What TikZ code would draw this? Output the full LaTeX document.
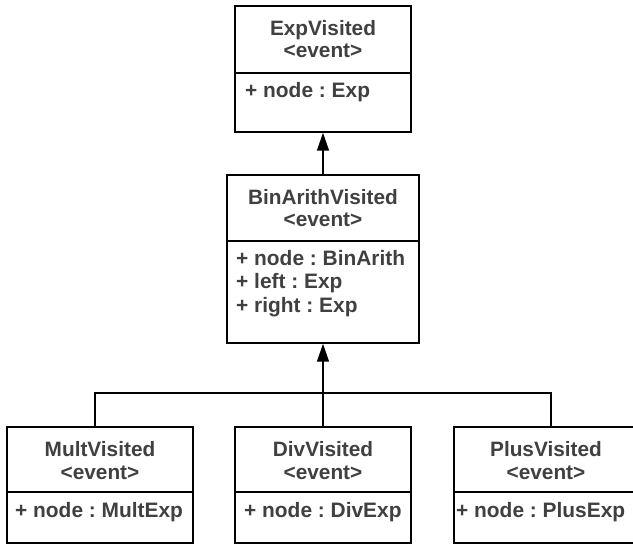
\documentclass[tikz,border=0pt]{standalone}
\usepackage{fontspec}
\setmainfont{Liberation Sans}
\usetikzlibrary{arrows.meta}
\definecolor{txt}{HTML}{404040}
\frenchspacing
\tikzset{
  box/.style={draw=black, line width=1.5pt, fill=white, inner sep=0pt, rectangle},
  divline/.style={draw=black, line width=1.5pt},
  conn/.style={draw=black, line width=1.5pt, line join=miter},
  inh/.style={conn, -{Triangle[length=18pt,width=12pt]}},
  hdr/.style={text=txt, font=\fontsize{20.8}{22}\selectfont\bfseries\frenchspacing, anchor=base, inner sep=0pt},
  attr/.style={text=txt, font=\fontsize{20.9}{23}\selectfont\bfseries\frenchspacing, anchor=base west, inner sep=0pt}
}
\begin{document}
\begin{tikzpicture}[x=1pt,y=-1pt]
\useasboundingbox (0,0) rectangle (633,545);
\clip (0,0) rectangle (633,545);
% boxes
\node[box, minimum width=176pt, minimum height=126pt] (exp) at (323,69) {};
\node[box, minimum width=192pt, minimum height=168pt] (bin) at (323,259) {};
\node[box, minimum width=186pt, minimum height=116pt] (mult) at (100,485) {};
\node[box, minimum width=176pt, minimum height=116pt] (div) at (323,485) {};
\node[box, minimum width=186pt, minimum height=116pt] (plus) at (547,485) {};
% dividers
\draw[divline] ([yshift=-68pt]exp.north west) -- ([yshift=-68pt]exp.north east);
\draw[divline] ([yshift=-67pt]bin.north west) -- ([yshift=-67pt]bin.north east);
\draw[divline] ([yshift=-66pt]mult.north west) -- ([yshift=-66pt]mult.north east);
\draw[divline] ([yshift=-66pt]div.north west) -- ([yshift=-66pt]div.north east);
\draw[divline] ([yshift=-66pt]plus.north west) -- ([yshift=-66pt]plus.north east);
% texts
\node[hdr] (expA) at (323,36) {ExpVisited};
\node[hdr] (expB) at (323,58) {<event>};
\node[attr] (expC) at (245,98) {+ node : Exp};
\node[hdr] (binA) at (323,205) {BinArithVisited};
\node[hdr] (binB) at (323,227) {<event>};
\node[attr] (binC) at (236,266) {+ node : BinArith};
\node[attr] (binD) at (236,289) {+ left : Exp};
\node[attr] (binE) at (236,313) {+ right : Exp};
\node[hdr] (multA) at (100,457) {MultVisited};
\node[hdr] (multB) at (100,480) {<event>};
\node[attr] (multC) at (15,518) {+ node : MultExp};
\node[hdr] (divA) at (323,457) {DivVisited};
\node[hdr] (divB) at (323,480) {<event>};
\node[attr] (divC) at (244,518) {+ node : DivExp};
\node[hdr] (plusA) at (546,457) {PlusVisited};
\node[hdr] (plusB) at (546,480) {<event>};
\node[attr] (plusC) at (456,518) {+ node : PlusExp};
% connectors
\draw[inh] (bin.north) -- (exp.south);
\coordinate (j) at (323,393);
\draw[inh] (div.north) -- (j) -- (bin.south);
\draw[conn] ([xshift=-5pt]mult.north) |- ([xshift=4pt]plus.north |- j) -- ([xshift=4pt]plus.north);
\end{tikzpicture}
\end{document}
